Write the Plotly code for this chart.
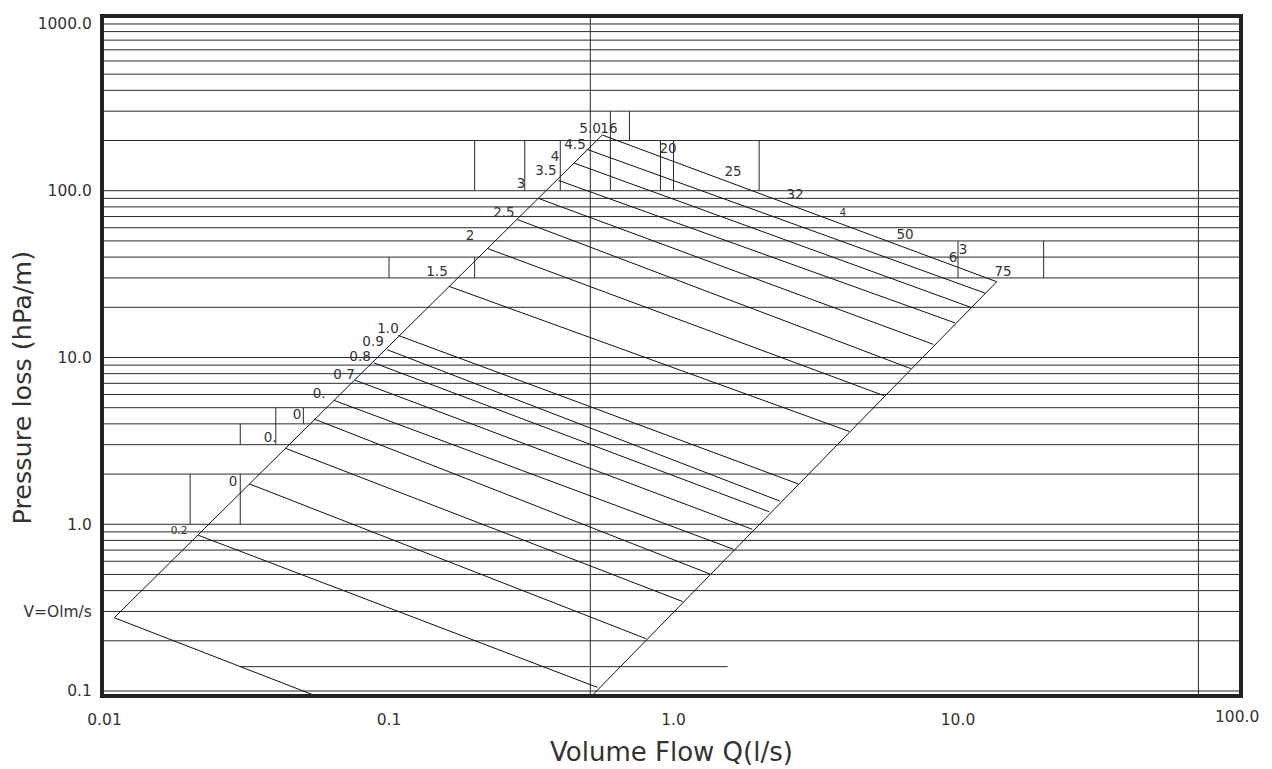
import plotly.graph_objects as go

# ---------------- data ----------------
# horizontal pressure grid values (hPa/m)
grid_p = [0.1, 0.2, 0.3, 0.4, 0.5, 0.6, 0.7, 0.8, 0.9,
          1, 2, 3, 4, 5, 6, 7, 8, 9,
          10, 20, 30, 40, 50, 60, 70, 80, 90,
          100, 200, 300, 400, 500, 600, 700, 800, 900, 1000]
partial_grid_p = [0.14]
partial_grid_q = [0.03, 1.55]

# full-height vertical lines (l/s)
vline_q = [0.51, 70]

# short vertical segments (boxes around labels)
seg_q = [0.02, 0.03, 0.03, 0.04, 0.04, 0.05, 0.1, 0.2, 0.2, 0.3, 0.4, 0.6, 0.6, 0.7, 0.9, 1.0, 2.0, 10, 20]
seg_p_lo = [1, 1, 3, 3, 4, 4, 30, 30, 100, 100, 100, 100, 200, 200, 100, 100, 100, 30, 30]
seg_p_hi = [2, 2, 4, 4, 5, 5, 40, 40, 200, 200, 200, 200, 300, 300, 200, 200, 200, 50, 50]

# constant-velocity lines: start (left boundary) and end (right boundary)
v_start_q = [0.562, 0.495, 0.448, 0.3937, 0.3366, 0.2825, 0.2216, 0.1625, 0.1078,
             0.0986, 0.0886, 0.0760, 0.0641, 0.0545, 0.0431, 0.0323, 0.02137, 0.01082]
v_start_p = [215.9, 177.4, 146.3, 115.4, 89.7, 67.2, 45.1, 26.7, 13.56,
             11.13, 9.27, 7.31, 5.53, 4.28, 2.86, 1.745, 0.859, 0.275]
v_end_q = [13.68, 12.44, 11.08, 9.76, 8.19, 6.82, 5.50, 4.15, 2.746,
           2.367, 2.171, 1.892, 1.623, 1.344, 1.077, 0.800, 0.540, 0.070]
v_end_p = [28.46, 24.34, 20.0, 16.13, 11.99, 8.58, 5.90, 3.60, 1.745,
           1.376, 1.188, 0.933, 0.709, 0.503, 0.344, 0.206, 0.1052, 0.080]

# boundary lines (smallest and largest pipe)
left_edge_q = [0.01082, 0.562]
left_edge_p = [0.275, 215.9]
right_edge_q = [0.462, 13.68]
right_edge_p = [0.077, 28.46]

# labels (velocity m/s along left edge, diameters mm along top edge)
lbl_text = ["5.0", "16", "4.5", "4", "3.5", "3", "2.5", "2", "1.5", "1.0", "0.9", "0.8",
            "0 7", "0.", "0", "0.", "0", "0.2",
            "20", "25", "32", "4", "50", "6", "3", "75"]
lbl_q = [0.509, 0.593, 0.4506, 0.3834, 0.3562, 0.2911, 0.2536, 0.1926, 0.1475, 0.0992, 0.0879, 0.0791,
         0.0695, 0.0568, 0.0475, 0.0382, 0.0283, 0.01827,
         0.9565, 1.619, 2.674, 3.943, 6.51, 9.60, 10.41, 14.39]
lbl_p = [233.4, 233.4, 187.4, 158.9, 129.3, 108.2, 72.7, 53.0, 32.3, 14.79, 12.20, 9.93,
         7.76, 5.98, 4.48, 3.27, 1.786, 0.912,
         177.4, 127.6, 93.0, 72.7, 53.8, 39.2, 43.7, 32.3]
lbl_size = [13.5, 13.5, 13.5, 13.5, 13.5, 13.5, 13.5, 13.5, 13.5, 13.5, 13.5, 13.5,
            13.5, 13.5, 13.5, 13.5, 13.5, 10.5,
            13.5, 13.5, 13.5, 10, 13.5, 13.5, 13.5, 13.5]

x_tickvals = [0.01, 0.1, 1, 10]
x_ticktext = ["0.01", "0.1", "1.0", "10.0"]
x_last_tick = "100.0"   # sits on the right frame edge, just past the axis range
y_tickvals = [0.1, 0.3, 1, 10, 100, 1000]
y_ticktext = ["0.1", "V=Olm/s", "1.0", "10.0", "100.0", "1000.0"]

# ---------------- build figure ----------------
LINE = "#2a2a2a"
FONT = "DejaVu Sans"
X_FAR = [0.005, 200]
P_FAR = [0.05, 3000]

fig = go.Figure()

gx, gy = [], []
for p in grid_p:
    gx += [X_FAR[0], X_FAR[1], None]
    gy += [p, p, None]
for p in partial_grid_p:
    gx += [partial_grid_q[0], partial_grid_q[1], None]
    gy += [p, p, None]
for q in vline_q:
    gx += [q, q, None]
    gy += [P_FAR[0], P_FAR[1], None]
for q, lo, hi in zip(seg_q, seg_p_lo, seg_p_hi):
    gx += [q, q, None]
    gy += [lo, hi, None]
fig.add_trace(go.Scatter(x=gx, y=gy, mode="lines", line=dict(color=LINE, width=1),
                         hoverinfo="skip", showlegend=False))

dx, dy = [], []
for a, b, c, d in zip(v_start_q, v_start_p, v_end_q, v_end_p):
    dx += [a, c, None]
    dy += [b, d, None]
dx += left_edge_q + [None] + right_edge_q
dy += left_edge_p + [None] + right_edge_p
fig.add_trace(go.Scatter(x=dx, y=dy, mode="lines", line=dict(color="#111111", width=1),
                         hoverinfo="skip", showlegend=False))

fig.add_trace(go.Scatter(x=lbl_q, y=lbl_p, mode="text", text=lbl_text,
                         textposition="middle center",
                         textfont=dict(family=FONT, size=lbl_size, color="#333333"),
                         cliponaxis=False, hoverinfo="skip", showlegend=False))

TICKFONT = dict(family=FONT, size=15.5, color="#333333")
axis_common = dict(type="log", showgrid=False, zeroline=False, showline=True,
                   linewidth=4, linecolor="#222222", mirror=True, ticks="",
                   tickfont=TICKFONT)

fig.update_xaxes(range=[-2.0018, 1.9877], tickmode="array", tickvals=x_tickvals,
                 ticktext=x_ticktext, ticklabelstandoff=8, **axis_common)
fig.update_yaxes(range=[-1.0179, 3.0358], tickmode="array", tickvals=y_tickvals,
                 ticktext=y_ticktext, ticklabelstandoff=5, **axis_common)

# last x tick label (100.0) at the right frame edge
fig.add_annotation(text=x_last_tick, xref="paper", yref="paper",
                   x=0.9982, y=-0.0345, xanchor="center", yanchor="middle",
                   showarrow=False, font=TICKFONT)

fig.add_annotation(text="Volume Flow Q(l/s)", xref="paper", yref="paper",
                   x=0.5004, y=-0.0853, xanchor="center", yanchor="middle",
                   showarrow=False, font=dict(family=FONT, size=26, color="#333333"))
fig.add_annotation(text="Pressure loss (hPa/m)", xref="paper", yref="paper",
                   x=-0.0725, y=0.4529, xanchor="center", yanchor="middle", textangle=-90,
                   showarrow=False, font=dict(family=FONT, size=25.5, color="#333333"))

fig.update_layout(width=1256, height=761, margin=dict(l=96, r=25, t=6, b=75),
                  paper_bgcolor="white", plot_bgcolor="white")

fig.write_html("out.html")
